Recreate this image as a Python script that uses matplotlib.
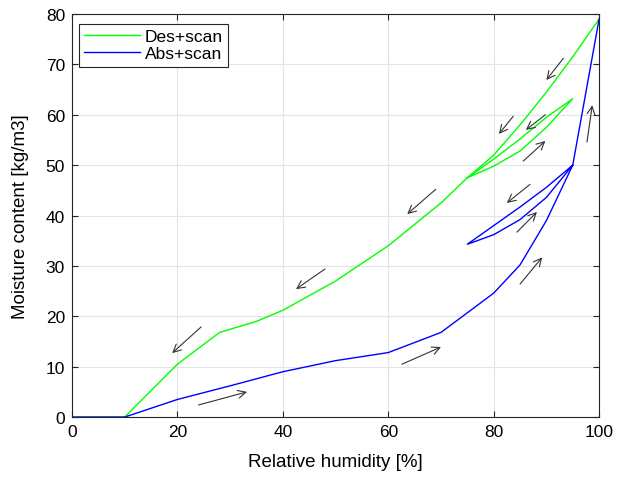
import matplotlib
matplotlib.use("Agg")
import matplotlib.pyplot as plt

plt.rcParams["font.family"] = ["Liberation Sans", "DejaVu Sans"]

# main desorption curve
des_rh = [0, 10, 20, 28, 35, 40, 50, 60, 70, 75, 80, 85, 90, 95, 100]
des_mc = [0, 0, 10.5, 16.8, 19.0, 21.2, 27.0, 34.0, 42.5, 47.5, 52.0, 58.0, 64.5, 71.5, 79.0]
# desorption scanning loop
des_scan_rh = [75, 80, 85, 90, 95, 90, 85, 80, 75]
des_scan_mc = [47.5, 49.8, 52.8, 57.5, 63.2, 59.5, 55.2, 51.2, 47.5]

# main absorption curve
abs_rh = [0, 10, 20, 30, 40, 50, 60, 70, 80, 85, 90, 95, 100]
abs_mc = [0, 0, 3.5, 6.2, 9.0, 11.2, 12.8, 16.8, 24.6, 30.2, 39.0, 50.0, 79.0]
# absorption scanning loop
abs_scan_rh = [95, 90, 85, 80, 75, 80, 85, 90, 95]
abs_scan_mc = [50.0, 45.6, 41.7, 38.0, 34.3, 36.2, 39.2, 43.6, 50.0]

# hand-drawn arrows: (x_start, y_start, x_end, y_end)
arrows = [
    (24.5, 17.9, 19.0, 12.7),
    (48.0, 29.4, 42.5, 25.4),
    (69.0, 45.2, 63.6, 40.3),
    (93.2, 71.2, 90.0, 66.9),
    (83.7, 59.7, 81.0, 56.2),
    (89.8, 60.0, 86.1, 57.0),
    (85.6, 50.8, 89.8, 54.8),
    (97.7, 54.6, 98.7, 61.9),
    (86.9, 46.2, 82.5, 42.5),
    (84.4, 36.7, 88.2, 40.7),
    (85.0, 26.4, 89.2, 31.7),
    (62.6, 10.5, 70.0, 13.9),
    (24.0, 2.4, 33.2, 5.0),
]

fig = plt.figure(figsize=(6.17, 4.85), dpi=100)
ax = fig.add_axes([0.1167, 0.138, 0.8543, 0.831])

green = "#00ff00"
blue = "#0000ff"
ax.plot(des_rh, des_mc, color=green, lw=1.0, label="Des+scan")
ax.plot(abs_rh, abs_mc, color=blue, lw=1.0, label="Abs+scan")
ax.plot(des_scan_rh, des_scan_mc, color=green, lw=1.0)
ax.plot(abs_scan_rh, abs_scan_mc, color=blue, lw=1.0)

for x0, y0, x1, y1 in arrows:
    ax.annotate("", xy=(x1, y1), xytext=(x0, y0),
                arrowprops=dict(arrowstyle="->", color="#333333", lw=0.8,
                                mutation_scale=14, shrinkA=0, shrinkB=0))

ax.set_xlim(0, 100)
ax.set_ylim(0, 80)
ax.set_xticks(range(0, 101, 20))
ax.set_yticks(range(0, 81, 10))
ax.grid(True, color="#e3e3e3", lw=0.8)
ax.set_axisbelow(True)
ax.tick_params(direction="in", top=True, right=True, labelsize=12.5, length=4,
               color="#262626", pad=5)
for s in ax.spines.values():
    s.set_color("#262626")
    s.set_linewidth(0.8)

ax.set_xlabel("Relative humidity [%]", fontsize=13.5, labelpad=10)
ax.set_ylabel("Moisture content [kg/m3]", fontsize=13.5, labelpad=12)

leg = ax.legend(loc="upper left", bbox_to_anchor=(0.013, 0.975), fontsize=12.5,
                fancybox=False, framealpha=1, edgecolor="#262626",
                handlelength=3.2, handletextpad=0.3, borderpad=0.3,
                labelspacing=0.1, borderaxespad=0)
leg.get_frame().set_linewidth(0.8)

fig.savefig("out.png", dpi=100)
